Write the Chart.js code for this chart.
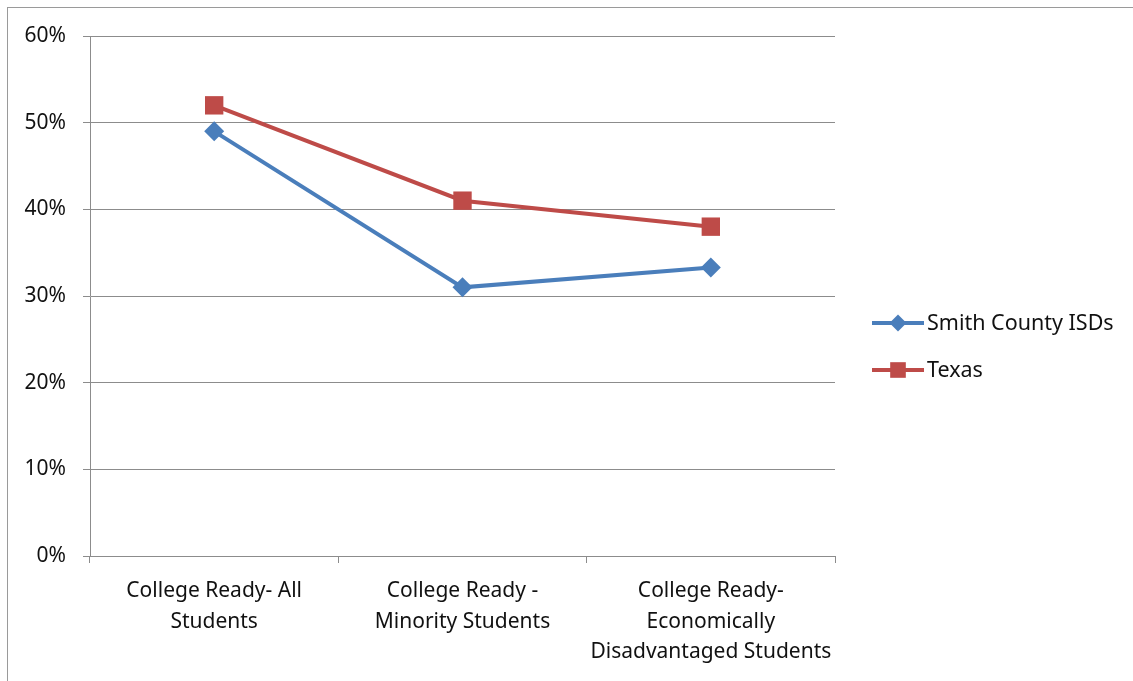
<!DOCTYPE html>
<html>
<head>
<meta charset="utf-8">
<script src="https://cdn.jsdelivr.net/npm/chart.js@4/dist/chart.umd.min.js"></script>
<style>
  html, body { margin: 0; padding: 0; background: #fff; overflow: hidden; }
  #wrap { position: relative; width: 1133px; height: 681px; }
  #frame { position: absolute; left: 7px; top: 7px; width: 1140px; height: 690px; border: 1px solid #9a9a9a; box-sizing: border-box; }
  canvas { position: absolute; left: 0; top: 0; }
</style>
</head>
<body>
<div id="wrap">
  <div id="frame"></div>
  <canvas id="mainChart" width="1133" height="681"></canvas>
</div>
<script>
// categorias do eixo X (quebradas em linhas como no original)
const categories = [
    ["College Ready- All", "Students"],
    ["College Ready -", "Minority Students"],
    ["College Ready-", "Economically", "Disadvantaged Students"]
];
const smithValues = [49, 31, 33.3];
const texasValues = [52, 41, 38];
const yTicks = [0, 10, 20, 30, 40, 50, 60];

const FONT = "'Noto Sans', sans-serif";
const TEXT = '#111';
const BLUE = '#4a7ebb';
const RED = '#be4b48';
const GRID = '#8c8c8c';

// legenda desenhada à direita, fora da área do gráfico
const sideLegend = {
    id: 'sideLegend',
    afterDraw(chart) {
        const ctx = chart.ctx;
        const x0 = 872, rows = [323, 370];
        chart.data.datasets.forEach((ds, i) => {
            const y = rows[i];
            ctx.save();
            ctx.strokeStyle = ds.borderColor;
            ctx.lineWidth = 4;
            ctx.beginPath();
            ctx.moveTo(x0, y);
            ctx.lineTo(x0 + 52, y);
            ctx.stroke();
            ctx.fillStyle = ds.backgroundColor;
            Chart.helpers.drawPoint(ctx, {
                pointStyle: ds.pointStyle,
                radius: ds.pointRadius * 0.85,
                rotation: 0,
                borderWidth: 0
            }, x0 + 26, y);
            ctx.fillStyle = TEXT;
            ctx.font = `21.5px ${FONT}`;
            ctx.textBaseline = 'middle';
            ctx.fillText(ds.label, x0 + 55, y + 1);
            ctx.restore();
        });
    }
};

const ctx = document.getElementById('mainChart').getContext('2d');
const myChart = new Chart(ctx, {
    type: 'line',
    data: {
        labels: categories,
        datasets: [
            {
                label: 'Smith County ISDs',
                data: smithValues,
                borderColor: BLUE,
                backgroundColor: BLUE,
                borderWidth: 4,
                pointStyle: 'rectRot',
                pointRadius: 10,
                pointBorderWidth: 0,
                tension: 0
            },
            {
                label: 'Texas',
                data: texasValues,
                borderColor: RED,
                backgroundColor: RED,
                borderWidth: 4,
                pointStyle: 'rect',
                pointRadius: 13,
                pointBorderWidth: 0,
                tension: 0
            }
        ]
    },
    options: {
        responsive: false,
        animation: false,
        layout: { padding: { top: 36, right: 298, left: 0, bottom: 0 } },
        plugins: {
            legend: { display: false },
            tooltip: { enabled: false }
        },
        scales: {
            x: {
                offset: true,
                afterFit: s => { s.height = 125; },
                border: { display: true, color: GRID, width: 1 },
                grid: { offset: true, drawOnChartArea: false, drawTicks: true, tickLength: 7, color: GRID },
                ticks: { color: TEXT, font: { family: FONT, size: 21, lineHeight: 1.45 }, padding: 13, maxRotation: 0, autoSkip: false }
            },
            y: {
                min: 0,
                max: 60,
                afterFit: s => { s.width = 90; },
                afterBuildTicks: s => { s.ticks = yTicks.map(v => ({ value: v })); },
                border: { display: true, color: GRID, width: 1 },
                grid: { color: GRID, lineWidth: 1, tickLength: 7, drawTicks: true },
                ticks: { color: TEXT, font: { family: FONT, size: 21 }, padding: 17, callback: v => v + '%' }
            }
        }
    },
    plugins: [sideLegend]
});
</script>
</body>
</html>
